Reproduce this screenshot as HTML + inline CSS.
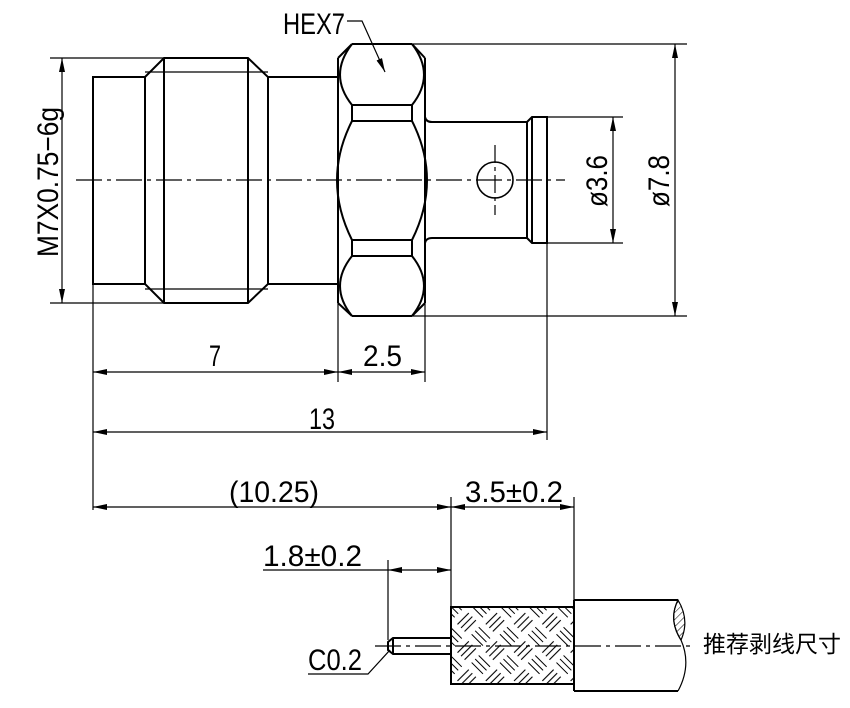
<!DOCTYPE html>
<html><head><meta charset="utf-8"><style>
html,body{margin:0;padding:0;background:#fff}
svg{display:block}
text{font-family:"Liberation Sans Narrow","Liberation Sans",sans-serif;fill:#000}
</style></head><body>
<svg width="850" height="708" viewBox="0 0 850 708" xmlns="http://www.w3.org/2000/svg">
<defs>
<marker id="a" viewBox="0 0 14 6" refX="14" refY="3" markerWidth="14" markerHeight="6" markerUnits="userSpaceOnUse" orient="auto-start-reverse"><path d="M0,0L14,3L0,6z" fill="#000"/></marker>
<pattern id="h" width="40" height="40" patternUnits="userSpaceOnUse" patternTransform="rotate(45)">
<g stroke="#000" stroke-width="1.1">
<path d="M2,5H18M2,10H18M2,15H18"/>
<path d="M22,25H38M22,30H38M22,35H38"/>
<path d="M25,2V18M30,2V18M35,2V18"/>
<path d="M5,22V38M10,22V38M15,22V38"/>
</g>
</pattern>
<pattern id="h2" width="5" height="5" patternUnits="userSpaceOnUse" patternTransform="rotate(45)"><path d="M0,0V5" stroke="#000" stroke-width="1"/></pattern>
</defs>
<g fill="none" stroke="#000" stroke-width="2">
<path d="M145,77H93V284H145"/>
<path d="M145,77L164,58H248L268,77V284L248,303H164L145,284Z"/>
<path d="M164,58V303M248,58V303"/>
<path d="M268,77H338M268,284H338"/>
<path d="M352,44H412M352,316H412"/>
<path d="M352,44L338,58M412,44L425,58M352,316L338,303M412,316L425,303"/>
<path d="M352,44Q328,75 352,105M412,44Q436,75 412,105"/>
<path d="M352,256Q328,286 352,316M412,256Q436,286 412,316"/>
<path d="M352,121Q322,180 352,240M412,121Q442,180 412,240"/>
<path d="M352,105H412V121H352ZM352,240H412V256H352Z"/>
<path d="M338,58V303M425,58V303"/>
<path d="M425,117Q426,122 432,122H527V238H432Q426,238 425,243"/>
<path d="M527,122L532,117H547V243H532L527,238M532,117V243"/>
<circle cx="495" cy="180" r="18" stroke-width="1.6"/>
</g>
<g fill="none" stroke="#000" stroke-width="1.2">
<path d="M145,72H268M145,289H268"/>
<path d="M76,180H565" stroke-dasharray="26,5,4,5"/>
<path d="M495,145V215" stroke-dasharray="18,4,4,4"/>
<path d="M50,58H164M50,303H164"/>
<path d="M412,44H687M412,316H687"/>
<path d="M547,117H623M547,243H623"/>
<path d="M93,284V510M338,303V382M425,303V382M547,243V440"/>
<path d="M451,497V684M574,497V600M388,560V640"/>
<path d="M62,58V303" marker-start="url(#a)" marker-end="url(#a)"/>
<path d="M613,117V243" marker-start="url(#a)" marker-end="url(#a)"/>
<path d="M675,44V316" marker-start="url(#a)" marker-end="url(#a)"/>
<path d="M93,372H338" marker-start="url(#a)" marker-end="url(#a)"/>
<path d="M338,372H425" marker-start="url(#a)" marker-end="url(#a)"/>
<path d="M93,432H547" marker-start="url(#a)" marker-end="url(#a)"/>
<path d="M93,507H451" marker-start="url(#a)" marker-end="url(#a)"/>
<path d="M451,507H574" marker-start="url(#a)" marker-end="url(#a)"/>
<path d="M263,570H388"/>
<path d="M410,570H388" marker-end="url(#a)"/>
<path d="M430,570H451" marker-end="url(#a)"/>
<path d="M410,570H430"/>
<path d="M347,21H362L385,72" marker-end="url(#a)"/>
<path d="M308,674H368L390,650"/>
<path d="M375,646H690" stroke-dasharray="26,5,4,5"/>
</g>
<rect x="451" y="607" width="123" height="77" fill="url(#h)" stroke="#000" stroke-width="2"/>
<g fill="none" stroke="#000" stroke-width="2">
<path d="M451,638H393L388,642V650L393,654H451"/>
<path d="M393,638V654"/>
<path d="M574,600H678M574,691H678M574,600V691"/>
</g>
<path d="M678,600Q668,620 681,640Q690,620 678,600Z" fill="url(#h2)" stroke="#000" stroke-width="1.2"/>
<path d="M678,600Q668,620 681,640Q692,665 678,691" fill="none" stroke="#000" stroke-width="1.2"/>
<g font-size="30">
<text x="283" y="34" textLength="62" lengthAdjust="spacingAndGlyphs">HEX7</text>
<text x="215" y="366" text-anchor="middle" textLength="12" lengthAdjust="spacingAndGlyphs">7</text>
<text x="363" y="366" textLength="39" lengthAdjust="spacingAndGlyphs">2.5</text>
<text x="309" y="429" textLength="26" lengthAdjust="spacingAndGlyphs">13</text>
<text x="229" y="502" textLength="90" lengthAdjust="spacingAndGlyphs">(10.25)</text>
<text x="465" y="502" textLength="98" lengthAdjust="spacingAndGlyphs">3.5±0.2</text>
<text x="263" y="566" textLength="99" lengthAdjust="spacingAndGlyphs">1.8±0.2</text>
<text x="308" y="670" textLength="54" lengthAdjust="spacingAndGlyphs">C0.2</text>
<text transform="translate(58,257) rotate(-90)" textLength="150" lengthAdjust="spacingAndGlyphs">M7X0.75−6g</text>
<text transform="translate(607,207) rotate(-90)" textLength="52" lengthAdjust="spacingAndGlyphs">ø3.6</text>
<text transform="translate(669,207) rotate(-90)" textLength="52" lengthAdjust="spacingAndGlyphs">ø7.8</text>
</g>
<text x="703" y="652" font-size="23" style="font-family:'Noto Sans CJK SC',sans-serif">推荐剥线尺寸</text>
</svg>
</body></html>
